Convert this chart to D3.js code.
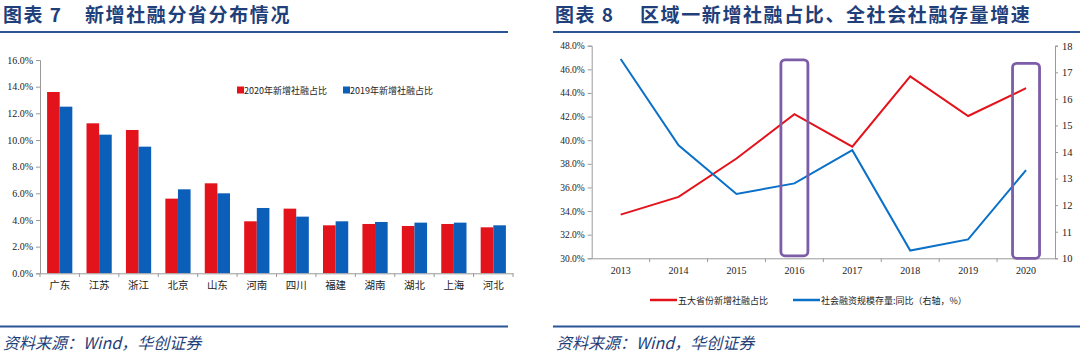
<!DOCTYPE html>
<html>
<head>
<meta charset="utf-8">
<script src="https://cdn.jsdelivr.net/npm/d3@7"></script>
<style>
  body { margin: 0; background: #fff; }
  svg { display: block; }
</style>
</head>
<body>
<svg id="chart" width="1080" height="354"></svg>
<script>
// ---- data ----
const provinces = ['广东', '江苏', '浙江', '北京', '山东', '河南', '四川', '福建', '湖南', '湖北', '上海', '河北'];
const share2020 = [13.6, 11.25, 10.75, 5.6, 6.75, 3.9, 4.85, 3.6, 3.7, 3.55, 3.7, 3.45];
const share2019 = [12.5, 10.4, 9.5, 6.3, 6.0, 4.9, 4.25, 3.9, 3.85, 3.8, 3.8, 3.6];
const barTicks = [0, 2, 4, 6, 8, 10, 12, 14, 16];
const barSeries = ['2020年新增社融占比', '2019年新增社融占比'];

const years = ['2013', '2014', '2015', '2016', '2017', '2018', '2019', '2020'];
const top5Share = [33.7, 35.2, 38.45, 42.2, 39.45, 45.4, 42.05, 44.4];
const stockGrowth = [17.5, 14.25, 12.42, 12.82, 14.07, 10.29, 10.71, 13.32];
const leftTicks = [30, 32, 34, 36, 38, 40, 42, 44, 46, 48];
const rightTicks = [10, 11, 12, 13, 14, 15, 16, 17, 18];
const highlightYears = ['2016', '2020'];
const lineSeries = ['五大省份新增社融占比', '社会融资规模存量:同比（右轴，%）'];

const RED = '#e3131b';
const BLUE = '#0b5fb8';
const LBLUE = '#0a70c8';
const NAVY = '#1f3f7a';
const RULE = '#2b5595';
const AXIS = '#9a9a9a';
const PURPLE = '#7d5ca8';
const CJK = '"Noto Sans CJK SC", sans-serif';
const SERIF = '"Liberation Serif", "DejaVu Serif", serif';

const svg = d3.select('#chart');

// ---- shared headers/footers ----
function frame(x0, x1, titleX, titleNo, textX, titleText) {
    const g = svg.append('g');
    g.append('text')
        .attr('x', titleX).attr('y', 22)
        .attr('fill', NAVY)
        .style('font-family', CJK)
        .style('font-size', '19px').style('font-weight', 'bold').style('letter-spacing', '1.5px')
        .text('图表 ' + titleNo);
    g.append('text')
        .attr('x', textX).attr('y', 22)
        .attr('fill', NAVY)
        .style('font-family', CJK)
        .style('font-size', '19px').style('font-weight', 'bold').style('letter-spacing', '1.6px')
        .text(titleText);
    g.append('line').attr('x1', x0).attr('x2', x1).attr('y1', 32).attr('y2', 32)
        .attr('stroke', RULE).attr('stroke-width', 2);
    g.append('line').attr('x1', x0).attr('x2', x1).attr('y1', 326.5).attr('y2', 326.5)
        .attr('stroke', RULE).attr('stroke-width', 2);
    g.append('text')
        .attr('x', x0 + 3).attr('y', 349)
        .attr('fill', NAVY)
        .style('font-family', CJK)
        .style('font-size', '16px').style('font-style', 'italic')
        .text('资料来源：Wind，华创证券');
}
frame(0, 508, 3, '7', 85, '新增社融分省分布情况');
frame(553, 1080, 555, '8', 640, '区域一新增社融占比、全社会社融存量增速');

// ---- left: bar chart ----
{
    const x = d3.scaleBand().domain(provinces).range([40, 513]).paddingInner(0.36).paddingOuter(0.18);
    const y = d3.scaleLinear().domain([0, 16]).range([273.3, 60]);
    const sub = d3.scaleBand().domain([0, 1]).range([0, x.bandwidth()]);

    const g = svg.append('g');
    provinces.forEach((p, i) => {
        [share2020[i], share2019[i]].forEach((v, k) => {
            g.append('rect')
                .attr('x', x(p) + sub(k))
                .attr('y', y(v))
                .attr('width', sub.bandwidth())
                .attr('height', y(0) - y(v))
                .attr('fill', k === 0 ? RED : BLUE);
        });
    });

    const ya = g.append('g').attr('transform', 'translate(40,0)')
        .call(d3.axisLeft(y).tickValues(barTicks).tickSize(4).tickFormat(d => d.toFixed(1) + '%'));
    ya.select('.domain').attr('stroke', AXIS);
    ya.selectAll('.tick line').attr('stroke', AXIS);
    ya.selectAll('text').attr('fill', '#222').style('font-family', SERIF).style('font-size', '10px');

    const xa = g.append('g').attr('transform', 'translate(0,273.3)')
        .call(d3.axisBottom(x).tickSize(0).tickSizeOuter(0));
    xa.select('.domain').attr('stroke', AXIS);
    xa.selectAll('text').attr('dy', '1.2em').attr('fill', '#222').style('font-family', CJK).style('font-size', '10.5px');
    // ticks at category boundaries
    d3.range(provinces.length + 1).forEach(i => {
        const bx = 40 + i * (473 / provinces.length);
        g.append('line').attr('x1', bx).attr('x2', bx).attr('y1', 273.3).attr('y2', 277)
            .attr('stroke', AXIS);
    });

    // legend
    const lg = g.append('g').attr('transform', 'translate(237,90)');
    barSeries.forEach((s, k) => {
        const ox = k * 106;
        lg.append('rect').attr('x', ox).attr('y', -3.5).attr('width', 7).attr('height', 7)
            .attr('fill', k === 0 ? RED : BLUE);
        lg.append('text').attr('x', ox + 7).attr('y', 3.5)
            .attr('fill', '#222')
            .style('font-family', CJK).style('font-size', '9px')
            .text(s);
    });
}

// ---- right: dual axis lines ----
{
    const x = d3.scaleBand().domain(years).range([591.7, 1055]);
    const yL = d3.scaleLinear().domain([30, 48]).range([258.3, 45.7]);
    const yR = d3.scaleLinear().domain([10, 18]).range([258.3, 45.7]);
    const cx = d => x(d) + x.bandwidth() / 2;

    const g = svg.append('g');

    const la = g.append('g').attr('transform', 'translate(591.7,0)')
        .call(d3.axisLeft(yL).tickValues(leftTicks).tickSize(4).tickFormat(d => d.toFixed(1) + '%'));
    la.select('.domain').attr('stroke', AXIS);
    la.selectAll('.tick line').attr('stroke', AXIS);
    la.selectAll('text').attr('fill', '#222').style('font-family', SERIF).style('font-size', '9.5px');

    const ra = g.append('g').attr('transform', 'translate(1055,0)')
        .call(d3.axisRight(yR).tickValues(rightTicks).tickSize(3));
    ra.select('.domain').attr('stroke', AXIS);
    ra.selectAll('.tick line').attr('stroke', AXIS);
    ra.selectAll('text').attr('x', 7).attr('fill', '#222').style('font-family', SERIF).style('font-size', '10.5px');

    const xa = g.append('g').attr('transform', 'translate(0,258.3)')
        .call(d3.axisBottom(x).tickSize(0).tickSizeOuter(0));
    xa.select('.domain').attr('stroke', AXIS);
    xa.selectAll('text').attr('dy', '1.3em').attr('fill', '#222').style('font-family', SERIF).style('font-size', '10px');
    years.forEach((yr, i) => {
        if (i === 0) return;
        g.append('line').attr('x1', x(yr)).attr('x2', x(yr)).attr('y1', 258.3).attr('y2', 262)
            .attr('stroke', AXIS);
    });

    const redLine = d3.line().x((d, i) => cx(years[i])).y(d => yL(d));
    const blueLine = d3.line().x((d, i) => cx(years[i])).y(d => yR(d));
    g.append('path').datum(top5Share).attr('d', redLine)
        .attr('fill', 'none').attr('stroke', RED).attr('stroke-width', 2);
    g.append('path').datum(stockGrowth).attr('d', blueLine)
        .attr('fill', 'none').attr('stroke', LBLUE).attr('stroke-width', 2);

    // highlight boxes
    highlightYears.forEach((yr, k) => {
        const top = k === 0 ? yL(46.8) : yL(46.5);
        g.append('rect')
            .attr('x', cx(yr) - 13.5).attr('y', top)
            .attr('width', 27).attr('height', yL(30) - top - (k === 0 ? 2.5 : 0))
            .attr('rx', 4).attr('ry', 4)
            .attr('fill', 'none').attr('stroke', PURPLE).attr('stroke-width', 2.8);
    });

    // legend
    const lg = g.append('g').attr('transform', 'translate(650,300)');
    lineSeries.forEach((s, k) => {
        const ox = k * 143;
        lg.append('line').attr('x1', ox).attr('x2', ox + 27).attr('y1', 0).attr('y2', 0)
            .attr('stroke', k === 0 ? RED : LBLUE).attr('stroke-width', 2.5);
        lg.append('text').attr('x', ox + 28).attr('y', 3.5)
            .attr('fill', '#222')
            .style('font-family', CJK).style('font-size', '9px')
            .text(s);
    });
}
</script>
</body>
</html>
